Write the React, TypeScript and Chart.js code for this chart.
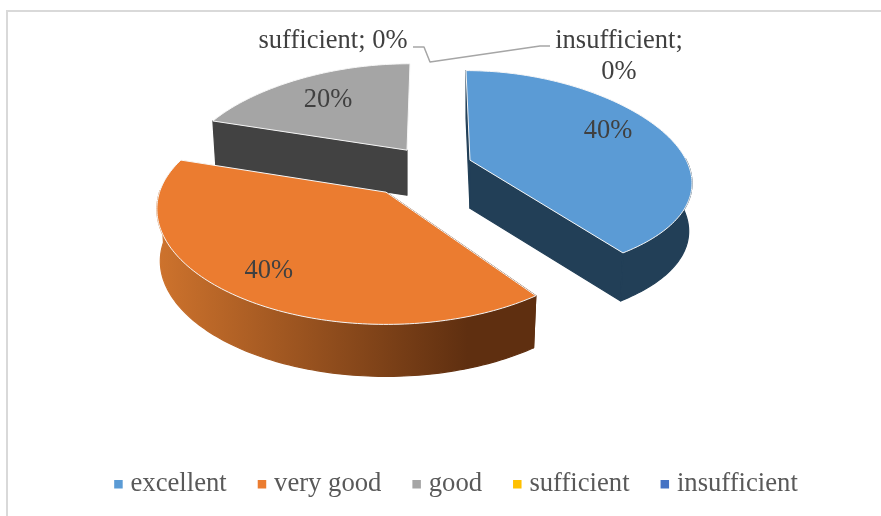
import React, { useEffect, useRef } from "react";
import { Chart, registerables } from "chart.js";

Chart.register(...registerables);

const categories = ["excellent", "very good", "good", "sufficient", "insufficient"];
const shares = [40, 40, 20, 0, 0];
const colors = ["#5B9BD5", "#EB7C30", "#A5A5A5", "#FFC000", "#4472C4"];

const FONT = '"Liberation Serif", "Times New Roman", serif';

// Look of each extruded wedge: explosion, foreshortening, perspective, wall.
const facets: any[] = [
  { ex: 52, ey: -9, sx: 1.012, p: 0.22, sy: 0.484, q: 0.134, h: 4, depth: 48, side: "#223F57", lr: 0.71, ldy: -7, end: true },
  { ex: -32, ey: 23, sx: 1.06, p: 0.155, sy: 0.517, q: 0.197, h: 0, depth: 52, side: "gradient", lr: 0.8, ldy: -2, end: false },
  { ex: -11, ey: -19, sx: 1.023, p: 0.2, sy: 0.459, q: 0.119, h: -3, depth: 45, side: "#424242", lr: 0.71, ldy: 2, end: false },
];
const centreShift = { x: -38, y: -56.5 };
const drawOrder = [2, 1, 0];
const zeroLabels = [
  { index: 3, lines: (t: string, v: string) => [`${t}; ${v}`], x: 325, y: 28 },
  { index: 4, lines: (t: string, v: string) => [`${t};`, v], x: 611, y: 28 },
];
const leader = [[405, 35], [416, 35], [422, 50], [532, 34], [542, 34]];

function projector(arc: any, f: any) {
  const ax = arc.x + centreShift.x + f.ex;
  const ay = arc.y + centreShift.y + f.ey;
  const R = arc.outerRadius;
  return (a: number, r: number, low = false) => {
    const X = Math.cos(a) * r;
    const Y = Math.sin(a) * r;
    let x = X * R * f.sx * (1 + f.p * Y) + f.h * Y;
    let y = Y * R * f.sy * (1 + f.q * Y);
    if (low) {
      x *= 0.985;
      y += f.depth;
    }
    return [ax + x, ay + y];
  };
}

function poly(ctx: CanvasRenderingContext2D, pts: number[][]) {
  ctx.beginPath();
  pts.forEach((p, i) => (i ? ctx.lineTo(p[0], p[1]) : ctx.moveTo(p[0], p[1])));
  ctx.closePath();
}

const pie3d = {
  id: "pie3d",
  beforeDatasetsDraw(chart: any) {
    const ctx: CanvasRenderingContext2D = chart.ctx;
    const arcs = chart.getDatasetMeta(0).data;
    const total = shares.reduce((a, b) => a + b, 0);
    ctx.save();
    ctx.lineJoin = "round";
    for (const i of drawOrder) {
      const arc = arcs[i];
      if (arc.endAngle - arc.startAngle <= 0) continue;
      const f = facets[i];
      const P = projector(arc, f);
      const steps = Math.ceil((arc.endAngle - arc.startAngle) / 0.02);
      const rim: number[] = [];
      for (let s = 0; s <= steps; s++) {
        rim.push(arc.startAngle + ((arc.endAngle - arc.startAngle) * s) / steps);
      }
      let fill: any = f.side;
      if (f.side === "gradient") {
        const xs = rim.map((a) => P(a, 1)[0]);
        const x0 = Math.min(...xs);
        const x1 = Math.max(...xs);
        fill = ctx.createLinearGradient(x0, 0, x1, 0);
        fill.addColorStop(0, "#CE732D");
        fill.addColorStop(0.82, "#5F2F10");
        fill.addColorStop(1, "#5F2F10");
      }
      ctx.fillStyle = fill;
      ctx.strokeStyle = fill;
      ctx.lineWidth = 1.2;
      const front = rim.filter((a) => Math.sin(a) > -0.02);
      const faces: number[][][] = [
        [P(arc.startAngle, 0), P(arc.startAngle, 1), P(arc.startAngle, 1, true), P(arc.startAngle, 0, true)],
      ];
      if (f.end) {
        faces.push([P(arc.endAngle, 0), P(arc.endAngle, 1), P(arc.endAngle, 1, true), P(arc.endAngle, 0, true)]);
      }
      if (front.length > 1) {
        faces.push([...front.map((a) => P(a, 1)), ...front.slice().reverse().map((a) => P(a, 1, true))]);
      }
      for (const face of faces) {
        poly(ctx, face);
        ctx.fill();
        ctx.stroke();
      }
      const top = [P(arc.startAngle, 0), ...rim.map((a) => P(a, 1))];
      poly(ctx, top);
      ctx.fillStyle = arc.options.backgroundColor;
      ctx.fill();
      ctx.strokeStyle = "#F6F6F6";
      ctx.lineWidth = 1;
      ctx.stroke();
    }
    // value labels on the wedges
    ctx.fillStyle = "#404040";
    ctx.font = `26.5px ${FONT}`;
    ctx.textAlign = "center";
    ctx.textBaseline = "middle";
    for (const i of drawOrder) {
      const arc = arcs[i];
      const f = facets[i];
      const mid = (arc.startAngle + arc.endAngle) / 2;
      const [x, y] = projector(arc, f)(mid, f.lr);
      ctx.fillText(`${Math.round((shares[i] / total) * 100)}%`, x, y + f.ldy);
    }
    // labels of the empty categories and their leader lines
    for (const z of zeroLabels) {
      const lines = z.lines(categories[z.index], `${Math.round((shares[z.index] / total) * 100)}%`);
      lines.forEach((t, n) => ctx.fillText(t, z.x, z.y + 1 + n * 31));
    }
    ctx.beginPath();
    leader.forEach((p, n) => (n ? ctx.lineTo(p[0], p[1]) : ctx.moveTo(p[0], p[1])));
    ctx.strokeStyle = "#A6A6A6";
    ctx.lineWidth = 1.5;
    ctx.stroke();
    ctx.restore();
    return false;
  },
  afterDraw(chart: any) {
    const ctx: CanvasRenderingContext2D = chart.ctx;
    const boxes = chart.legend.legendHitBoxes;
    ctx.save();
    boxes.forEach((b: any, i: number) => {
      ctx.fillStyle = colors[i];
      ctx.fillRect(b.left, Math.round(b.top + b.height / 2 - 4), 8.5, 8.5);
    });
    ctx.restore();
  },
};

export default function App() {
  const ref = useRef<HTMLCanvasElement>(null);
  useEffect(() => {
    const chart = new Chart(ref.current as HTMLCanvasElement, {
      type: "pie",
      data: {
        labels: categories,
        datasets: [{ data: shares, backgroundColor: colors, borderWidth: 0 }],
      },
      plugins: [pie3d],
      options: {
        animation: false,
        responsive: false,
        layout: { padding: 0 },
        plugins: {
          tooltip: { enabled: false },
          legend: {
            position: "bottom",
            labels: {
              boxWidth: 3,
              boxHeight: 0,
              padding: 31,
              color: "#595959",
              font: { family: FONT, size: 26.67 },
              generateLabels: () =>
                categories.map((text, index) => ({
                  text,
                  index,
                  fillStyle: "rgba(0,0,0,0)",
                  strokeStyle: "rgba(0,0,0,0)",
                  lineWidth: 0,
                  fontColor: "#595959",
                  hidden: false,
                })),
            },
          },
        },
      } as any,
    });
    return () => chart.destroy();
  }, []);
  return (
    <div
      style={{
        position: "fixed",
        left: 6,
        top: 10,
        height: 520,
        borderLeft: "2px solid #D9D9D9",
        borderTop: "2px solid #D9D9D9",
        background: "#fff",
      }}
    >
      <canvas ref={ref} width={896} height={495} style={{ display: "block" }} />
    </div>
  );
}
